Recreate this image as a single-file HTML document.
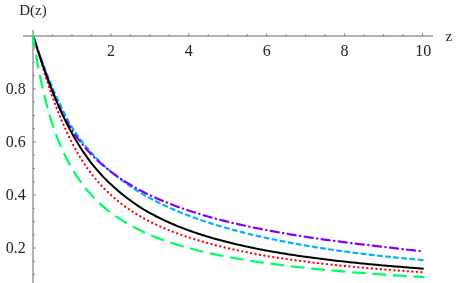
<!DOCTYPE html>
<html><head><meta charset="utf-8"><title>D(z)</title>
<style>
html,body{margin:0;padding:0;background:#fff;}
body{width:458px;height:283px;position:relative;overflow:hidden;font-family:"Liberation Serif",serif;}
</style></head><body>
<svg width="458" height="283" viewBox="0 0 458 283" style="position:absolute;left:0;top:0">
<rect width="458" height="283" fill="#fff"/>
<g stroke="#666" stroke-width="1" fill="none">
<path d="M23,36 H433"/>
<path d="M33,30 V283"/>
</g>
<path d="M52.48,36 v-1.8 M71.95,36 v-1.8 M91.43,36 v-1.8 M110.90,36 v-2.8 M130.38,36 v-1.8 M149.85,36 v-1.8 M169.33,36 v-1.8 M188.80,36 v-2.8 M208.28,36 v-1.8 M227.75,36 v-1.8 M247.23,36 v-1.8 M266.70,36 v-2.8 M286.18,36 v-1.8 M305.65,36 v-1.8 M325.12,36 v-1.8 M344.60,36 v-2.8 M364.08,36 v-1.8 M383.55,36 v-1.8 M403.03,36 v-1.8 M422.50,36 v-2.8 M33,274.57 h1.8 M33,261.31 h1.8 M33,248.04 h2.8 M33,234.78 h1.8 M33,221.51 h1.8 M33,208.25 h1.8 M33,194.98 h2.8 M33,181.72 h1.8 M33,168.45 h1.8 M33,155.19 h1.8 M33,141.92 h2.8 M33,128.66 h1.8 M33,115.39 h1.8 M33,102.12 h1.8 M33,88.86 h2.8 M33,75.59 h1.8 M33,62.33 h1.8 M33,49.06 h1.8" stroke="#333" stroke-width="0.55" fill="none"/>
<defs><clipPath id="cp"><rect x="30" y="35" width="396" height="250"/></clipPath></defs><g clip-path="url(#cp)">
<path d="M33.00,35.80 L33.99,38.52 L34.99,41.29 L35.98,44.11 L36.98,46.94 L37.98,49.79 L38.99,52.64 L39.99,55.48 L41.00,58.30 L42.01,61.10 L43.02,63.86 L44.03,66.60 L45.06,69.29 L46.08,71.94 L47.10,74.56 L48.11,77.12 L49.14,79.65 L50.16,82.12 L51.18,84.55 L52.19,86.94 L53.18,89.27 L54.15,91.57 L55.12,93.81 L56.10,96.01 L57.07,98.16 L58.04,100.27 L59.01,102.34 L59.97,104.37 L60.92,106.35 L61.86,108.29 L62.80,110.19 L63.73,112.06 L64.66,113.88 L65.58,115.67 L66.48,117.42 L67.37,119.14 L68.26,120.82 L69.17,122.47 L70.10,124.09 L71.05,125.67 L72.00,127.22 L73.91,130.24 L75.84,133.14 L77.78,135.93 L79.72,138.62 L81.67,141.22 L83.61,143.72 L85.55,146.14 L87.50,148.48 L89.44,150.75 L91.38,152.94 L93.33,155.06 L95.27,157.11 L97.21,159.11 L99.15,161.04 L101.10,162.92 L103.04,164.75 L104.98,166.52 L106.93,168.24 L108.87,169.92 L110.81,171.56 L112.76,173.16 L114.70,174.72 L116.64,176.26 L118.59,177.77 L120.53,179.25 L122.47,180.70 L124.42,182.12 L126.36,183.52 L128.30,184.89 L130.25,186.23 L132.19,187.54 L134.13,188.82 L136.08,190.08 L138.02,191.31 L139.96,192.51 L141.91,193.68 L143.85,194.82 L145.79,195.93 L147.73,197.01 L149.68,198.07 L151.62,199.09 L153.56,200.10 L155.51,201.09 L157.45,202.06 L159.39,203.02 L161.34,203.95 L163.28,204.87 L165.22,205.78 L167.17,206.67 L169.11,207.54 L171.05,208.40 L173.00,209.25 L174.94,210.08 L176.88,210.90 L178.83,211.71 L180.77,212.50 L182.71,213.28 L184.66,214.05 L186.60,214.80 L188.54,215.55 L190.48,216.28 L192.43,217.00 L194.37,217.72 L196.31,218.42 L198.26,219.11 L200.20,219.79 L202.14,220.46 L204.09,221.12 L206.03,221.77 L207.97,222.41 L209.92,223.04 L211.86,223.66 L213.80,224.27 L215.75,224.87 L217.69,225.46 L219.63,226.05 L221.58,226.62 L223.52,227.19 L225.46,227.75 L227.41,228.30 L229.35,228.84 L231.29,229.37 L233.24,229.90 L235.18,230.42 L237.12,230.93 L239.06,231.44 L241.01,231.94 L242.95,232.43 L244.89,232.92 L246.84,233.40 L248.78,233.87 L250.72,234.34 L252.67,234.80 L254.61,235.25 L256.55,235.70 L258.50,236.15 L260.44,236.59 L262.38,237.02 L264.33,237.45 L266.27,237.87 L268.21,238.29 L270.16,238.71 L272.10,239.12 L274.04,239.52 L275.99,239.92 L277.93,240.32 L279.87,240.71 L281.82,241.10 L283.76,241.49 L285.70,241.86 L287.64,242.24 L289.59,242.61 L291.53,242.98 L293.47,243.34 L295.42,243.69 L297.36,244.05 L299.30,244.40 L301.25,244.74 L303.19,245.09 L305.13,245.42 L307.08,245.76 L309.02,246.09 L310.96,246.41 L312.91,246.74 L314.85,247.06 L316.79,247.37 L318.74,247.68 L320.68,247.99 L322.62,248.30 L324.57,248.60 L326.51,248.90 L328.45,249.19 L330.40,249.48 L332.34,249.77 L334.28,250.05 L336.22,250.34 L338.17,250.61 L340.11,250.89 L342.05,251.16 L344.00,251.43 L345.94,251.69 L347.88,251.96 L349.83,252.22 L351.77,252.47 L353.71,252.73 L355.66,252.98 L357.60,253.23 L359.54,253.47 L361.49,253.71 L363.43,253.95 L365.37,254.19 L367.32,254.42 L369.26,254.65 L371.20,254.88 L373.15,255.11 L375.09,255.33 L377.03,255.55 L378.97,255.76 L380.92,255.98 L382.86,256.19 L384.80,256.39 L386.75,256.60 L388.69,256.80 L390.63,257.01 L392.58,257.21 L394.52,257.40 L396.46,257.60 L398.41,257.79 L400.35,257.98 L402.29,258.17 L404.24,258.36 L406.18,258.55 L408.12,258.74 L410.07,258.92 L412.01,259.10 L413.95,259.28 L415.90,259.46 L417.84,259.64 L419.78,259.82 L421.73,260.00 L423.67,260.17" fill="none" stroke="#00b2ff" stroke-width="2.2" stroke-linejoin="round" stroke-linecap="round" stroke-dasharray="4.0 4.196" stroke-dashoffset="8.35"/>
<path d="M33.00,35.80 L33.97,38.46 L34.95,41.21 L35.92,44.04 L36.90,46.92 L37.87,49.83 L38.84,52.76 L39.82,55.69 L40.79,58.62 L41.76,61.53 L42.74,64.41 L43.71,67.26 L44.69,70.07 L45.66,72.84 L46.63,75.57 L47.61,78.25 L48.58,80.88 L49.55,83.46 L50.53,85.99 L51.50,88.47 L52.48,90.89 L53.44,93.27 L54.40,95.59 L55.34,97.86 L56.28,100.08 L57.21,102.25 L58.14,104.37 L59.08,106.44 L60.02,108.47 L60.96,110.45 L61.91,112.38 L62.87,114.27 L63.83,116.12 L64.79,117.93 L65.75,119.69 L66.71,121.42 L67.68,123.10 L68.64,124.75 L69.61,126.36 L70.58,127.94 L71.55,129.48 L73.50,132.46 L75.47,135.31 L77.45,138.04 L79.44,140.66 L81.43,143.18 L83.41,145.59 L85.39,147.92 L87.38,150.15 L89.36,152.30 L91.34,154.38 L93.31,156.38 L95.27,158.31 L97.21,160.17 L99.15,161.97 L101.10,163.71 L103.04,165.40 L104.98,167.03 L106.93,168.62 L108.87,170.15 L110.81,171.64 L112.76,173.09 L114.70,174.51 L116.64,175.89 L118.59,177.23 L120.53,178.55 L122.47,179.84 L124.42,181.09 L126.36,182.32 L128.30,183.52 L130.25,184.70 L132.19,185.84 L134.13,186.97 L136.08,188.06 L138.02,189.14 L139.96,190.18 L141.91,191.21 L143.85,192.21 L145.79,193.19 L147.73,194.14 L149.68,195.08 L151.62,195.99 L153.56,196.88 L155.51,197.76 L157.45,198.62 L159.39,199.47 L161.34,200.30 L163.28,201.11 L165.22,201.91 L167.17,202.70 L169.11,203.47 L171.05,204.23 L173.00,204.98 L174.94,205.72 L176.88,206.44 L178.83,207.15 L180.77,207.85 L182.71,208.54 L184.66,209.21 L186.60,209.88 L188.54,210.53 L190.48,211.17 L192.43,211.81 L194.37,212.43 L196.31,213.04 L198.26,213.65 L200.20,214.24 L202.14,214.83 L204.09,215.40 L206.03,215.97 L207.97,216.53 L209.92,217.08 L211.86,217.62 L213.80,218.15 L215.75,218.67 L217.69,219.19 L219.63,219.70 L221.58,220.20 L223.52,220.69 L225.46,221.18 L227.41,221.66 L229.35,222.13 L231.29,222.60 L233.24,223.06 L235.18,223.52 L237.12,223.97 L239.06,224.41 L241.01,224.85 L242.95,225.28 L244.89,225.70 L246.84,226.12 L248.78,226.54 L250.72,226.95 L252.67,227.35 L254.61,227.75 L256.55,228.15 L258.50,228.54 L260.44,228.93 L262.38,229.31 L264.33,229.69 L266.27,230.06 L268.21,230.43 L270.16,230.80 L272.10,231.16 L274.04,231.52 L275.99,231.87 L277.93,232.22 L279.87,232.57 L281.82,232.91 L283.76,233.25 L285.70,233.59 L287.64,233.92 L289.59,234.25 L291.53,234.57 L293.47,234.89 L295.42,235.21 L297.36,235.52 L299.30,235.83 L301.25,236.13 L303.19,236.44 L305.13,236.73 L307.08,237.03 L309.02,237.32 L310.96,237.61 L312.91,237.90 L314.85,238.18 L316.79,238.46 L318.74,238.74 L320.68,239.02 L322.62,239.29 L324.57,239.56 L326.51,239.83 L328.45,240.10 L330.40,240.36 L332.34,240.62 L334.28,240.88 L336.22,241.14 L338.17,241.39 L340.11,241.65 L342.05,241.90 L344.00,242.15 L345.94,242.40 L347.88,242.64 L349.83,242.89 L351.77,243.13 L353.71,243.37 L355.66,243.61 L357.60,243.85 L359.54,244.09 L361.49,244.32 L363.43,244.56 L365.37,244.79 L367.32,245.02 L369.26,245.25 L371.20,245.47 L373.15,245.70 L375.09,245.92 L377.03,246.14 L378.97,246.36 L380.92,246.58 L382.86,246.80 L384.80,247.01 L386.75,247.23 L388.69,247.45 L390.63,247.68 L392.58,247.91 L394.52,248.15 L396.46,248.38 L398.41,248.62 L400.35,248.85 L402.29,249.08 L404.24,249.32 L406.18,249.55 L408.12,249.77 L410.07,249.99 L412.01,250.21 L413.95,250.42 L415.90,250.62 L417.84,250.82 L419.78,251.01 L421.73,251.19" fill="none" stroke="#8000ff" stroke-width="2.2" stroke-linejoin="round" stroke-linecap="round" stroke-dasharray="8.2 4.3 0.4 4.31" stroke-dashoffset="12.75"/>
<path d="M33.00,35.80 L33.95,38.43 L34.90,41.20 L35.85,44.08 L36.80,47.06 L37.75,50.10 L38.70,53.20 L39.64,56.33 L40.59,59.48 L41.53,62.64 L42.46,65.80 L43.39,68.95 L44.32,72.08 L45.27,75.19 L46.23,78.27 L47.21,81.32 L48.18,84.33 L49.15,87.30 L50.13,90.23 L51.10,93.11 L52.08,95.95 L53.06,98.74 L54.05,101.48 L55.06,104.17 L56.07,106.81 L57.09,109.41 L58.12,111.95 L59.14,114.45 L60.16,116.89 L61.18,119.29 L62.18,121.64 L63.18,123.94 L64.16,126.20 L65.13,128.41 L66.11,130.57 L67.08,132.69 L68.06,134.77 L69.03,136.80 L70.00,138.79 L70.98,140.74 L71.95,142.65 L73.89,146.35 L75.84,149.90 L77.78,153.30 L79.72,156.57 L81.67,159.71 L83.61,162.73 L85.55,165.62 L87.50,168.41 L89.44,171.09 L91.38,173.68 L93.33,176.16 L95.27,178.55 L97.21,180.86 L99.15,183.09 L101.10,185.23 L103.04,187.30 L104.98,189.30 L106.93,191.24 L108.87,193.10 L110.81,194.91 L112.76,196.66 L114.70,198.35 L116.64,199.99 L118.59,201.57 L120.53,203.11 L122.47,204.60 L124.42,206.04 L126.36,207.44 L128.30,208.81 L130.25,210.13 L132.19,211.41 L134.13,212.66 L136.08,213.87 L138.02,215.05 L139.96,216.20 L141.91,217.32 L143.85,218.40 L145.79,219.46 L147.73,220.49 L149.68,221.50 L151.62,222.48 L153.56,223.43 L155.51,224.37 L157.45,225.28 L159.39,226.16 L161.34,227.03 L163.28,227.88 L165.22,228.70 L167.17,229.51 L169.11,230.30 L171.05,231.07 L173.00,231.83 L174.94,232.57 L176.88,233.29 L178.83,234.00 L180.77,234.69 L182.71,235.37 L184.66,236.03 L186.60,236.68 L188.54,237.32 L190.48,237.94 L192.43,238.56 L194.37,239.16 L196.31,239.76 L198.26,240.35 L200.20,240.93 L202.14,241.50 L204.09,242.06 L206.03,242.61 L207.97,243.16 L209.92,243.69 L211.86,244.22 L213.80,244.73 L215.75,245.24 L217.69,245.74 L219.63,246.23 L221.58,246.71 L223.52,247.19 L225.46,247.65 L227.41,248.10 L229.35,248.55 L231.29,248.99 L233.24,249.42 L235.18,249.85 L237.12,250.27 L239.06,250.69 L241.01,251.09 L242.95,251.50 L244.89,251.89 L246.84,252.28 L248.78,252.67 L250.72,253.05 L252.67,253.42 L254.61,253.79 L256.55,254.15 L258.50,254.50 L260.44,254.85 L262.38,255.20 L264.33,255.54 L266.27,255.87 L268.21,256.19 L270.16,256.52 L272.10,256.83 L274.04,257.14 L275.99,257.45 L277.93,257.75 L279.87,258.04 L281.82,258.33 L283.76,258.61 L285.70,258.90 L287.64,259.18 L289.59,259.45 L291.53,259.72 L293.47,259.99 L295.42,260.25 L297.36,260.51 L299.30,260.77 L301.25,261.03 L303.19,261.28 L305.13,261.53 L307.08,261.77 L309.02,262.01 L310.96,262.25 L312.91,262.49 L314.85,262.72 L316.79,262.96 L318.74,263.18 L320.68,263.41 L322.62,263.63 L324.57,263.85 L326.51,264.07 L328.45,264.29 L330.40,264.50 L332.34,264.71 L334.28,264.92 L336.22,265.12 L338.17,265.33 L340.11,265.53 L342.05,265.73 L344.00,265.92 L345.94,266.12 L347.88,266.31 L349.83,266.50 L351.77,266.69 L353.71,266.87 L355.66,267.05 L357.60,267.23 L359.54,267.41 L361.49,267.59 L363.43,267.76 L365.37,267.94 L367.32,268.11 L369.26,268.27 L371.20,268.44 L373.15,268.61 L375.09,268.77 L377.03,268.93 L378.97,269.09 L380.92,269.25 L382.86,269.40 L384.80,269.56 L386.75,269.71 L388.69,269.86 L390.63,270.01 L392.58,270.16 L394.52,270.31 L396.46,270.45 L398.41,270.60 L400.35,270.74 L402.29,270.88 L404.24,271.02 L406.18,271.16 L408.12,271.30 L410.07,271.44 L412.01,271.58 L413.95,271.71 L415.90,271.85 L417.84,271.98 L419.78,272.11 L421.73,272.25 L423.67,272.38" fill="none" stroke="#ff0000" stroke-width="2.3" stroke-linejoin="round" stroke-linecap="round" stroke-dasharray="0.01 4.502" stroke-dashoffset="0.71"/>
<path d="M33.00,35.80 L33.97,38.83 L34.95,41.85 L35.92,44.84 L36.90,47.82 L37.87,50.77 L38.84,53.70 L39.82,56.60 L40.79,59.47 L41.76,62.32 L42.74,65.13 L43.71,67.91 L44.69,70.66 L45.66,73.37 L46.63,76.05 L47.61,78.69 L48.58,81.29 L49.55,83.86 L50.53,86.39 L51.50,88.89 L52.48,91.35 L53.45,93.77 L54.42,96.16 L55.40,98.52 L56.37,100.84 L57.34,103.13 L58.32,105.39 L59.29,107.60 L60.27,109.78 L61.24,111.92 L62.21,114.03 L63.19,116.10 L64.16,118.13 L65.13,120.13 L66.11,122.10 L67.08,124.03 L68.06,125.93 L69.03,127.80 L70.00,129.64 L70.98,131.44 L71.95,133.21 L73.89,136.67 L75.84,140.01 L77.78,143.25 L79.72,146.38 L81.67,149.42 L83.61,152.35 L85.55,155.18 L87.50,157.92 L89.44,160.56 L91.38,163.10 L93.33,165.55 L95.27,167.92 L97.21,170.20 L99.15,172.40 L101.10,174.53 L103.04,176.60 L104.98,178.60 L106.93,180.55 L108.87,182.44 L110.81,184.29 L112.76,186.10 L114.70,187.85 L116.64,189.57 L118.59,191.24 L120.53,192.86 L122.47,194.45 L124.42,196.00 L126.36,197.51 L128.30,198.98 L130.25,200.42 L132.19,201.81 L134.13,203.18 L136.08,204.50 L138.02,205.80 L139.96,207.06 L141.91,208.29 L143.85,209.48 L145.79,210.64 L147.73,211.77 L149.68,212.87 L151.62,213.94 L153.56,214.98 L155.51,216.00 L157.45,217.00 L159.39,217.97 L161.34,218.92 L163.28,219.85 L165.22,220.77 L167.17,221.66 L169.11,222.53 L171.05,223.38 L173.00,224.22 L174.94,225.04 L176.88,225.84 L178.83,226.62 L180.77,227.39 L182.71,228.15 L184.66,228.89 L186.60,229.61 L188.54,230.32 L190.48,231.02 L192.43,231.70 L194.37,232.37 L196.31,233.03 L198.26,233.68 L200.20,234.31 L202.14,234.93 L204.09,235.54 L206.03,236.14 L207.97,236.73 L209.92,237.31 L211.86,237.88 L213.80,238.44 L215.75,238.99 L217.69,239.52 L219.63,240.06 L221.58,240.58 L223.52,241.09 L225.46,241.59 L227.41,242.09 L229.35,242.58 L231.29,243.05 L233.24,243.53 L235.18,243.99 L237.12,244.45 L239.06,244.90 L241.01,245.34 L242.95,245.77 L244.89,246.20 L246.84,246.63 L248.78,247.04 L250.72,247.45 L252.67,247.85 L254.61,248.25 L256.55,248.64 L258.50,249.03 L260.44,249.41 L262.38,249.78 L264.33,250.15 L266.27,250.51 L268.21,250.87 L270.16,251.22 L272.10,251.57 L274.04,251.91 L275.99,252.25 L277.93,252.58 L279.87,252.91 L281.82,253.23 L283.76,253.55 L285.70,253.86 L287.64,254.17 L289.59,254.47 L291.53,254.77 L293.47,255.07 L295.42,255.36 L297.36,255.65 L299.30,255.93 L301.25,256.21 L303.19,256.49 L305.13,256.76 L307.08,257.03 L309.02,257.30 L310.96,257.56 L312.91,257.82 L314.85,258.07 L316.79,258.32 L318.74,258.57 L320.68,258.82 L322.62,259.06 L324.57,259.30 L326.51,259.54 L328.45,259.78 L330.40,260.01 L332.34,260.24 L334.28,260.46 L336.22,260.69 L338.17,260.91 L340.11,261.13 L342.05,261.35 L344.00,261.56 L345.94,261.77 L347.88,261.98 L349.83,262.19 L351.77,262.40 L353.71,262.60 L355.66,262.80 L357.60,263.00 L359.54,263.19 L361.49,263.39 L363.43,263.58 L365.37,263.77 L367.32,263.96 L369.26,264.14 L371.20,264.32 L373.15,264.50 L375.09,264.68 L377.03,264.86 L378.97,265.04 L380.92,265.21 L382.86,265.38 L384.80,265.55 L386.75,265.72 L388.69,265.89 L390.63,266.06 L392.58,266.22 L394.52,266.38 L396.46,266.54 L398.41,266.70 L400.35,266.86 L402.29,267.02 L404.24,267.18 L406.18,267.33 L408.12,267.49 L410.07,267.64 L412.01,267.79 L413.95,267.94 L415.90,268.09 L417.84,268.24 L419.78,268.39 L421.73,268.54 L423.67,268.68" fill="none" stroke="#000" stroke-width="2" stroke-linejoin="round" stroke-linecap="butt"/>
<path d="M33.00,35.80 L33.97,42.27 L34.95,48.43 L35.92,54.31 L36.90,59.92 L37.87,65.28 L38.84,70.40 L39.82,75.31 L40.79,80.02 L41.76,84.53 L42.74,88.86 L43.71,93.02 L44.69,97.02 L45.66,100.87 L46.63,104.58 L47.61,108.15 L48.58,111.60 L49.55,114.92 L50.53,118.13 L51.50,121.24 L52.48,124.23 L53.45,127.13 L54.42,129.94 L55.40,132.66 L56.37,135.29 L57.34,137.84 L58.32,140.31 L59.29,142.71 L60.27,145.04 L61.24,147.30 L62.21,149.50 L63.19,151.64 L64.16,153.71 L65.13,155.73 L66.11,157.69 L67.08,159.61 L68.06,161.47 L69.03,163.28 L70.00,165.05 L70.98,166.77 L71.95,168.45 L73.89,171.68 L75.84,174.75 L77.78,177.69 L79.72,180.48 L81.67,183.16 L83.61,185.72 L85.55,188.17 L87.50,190.52 L89.44,192.77 L91.38,194.93 L93.33,197.01 L95.27,199.01 L97.21,200.93 L99.15,202.78 L101.10,204.57 L103.04,206.29 L104.98,207.95 L106.93,209.55 L108.87,211.10 L110.81,212.60 L112.76,214.05 L114.70,215.45 L116.64,216.81 L118.59,218.12 L120.53,219.40 L122.47,220.64 L124.42,221.84 L126.36,223.00 L128.30,224.13 L130.25,225.23 L132.19,226.30 L134.13,227.33 L136.08,228.34 L138.02,229.32 L139.96,230.28 L141.91,231.21 L143.85,232.12 L145.79,233.00 L147.73,233.86 L149.68,234.70 L151.62,235.52 L153.56,236.32 L155.51,237.10 L157.45,237.86 L159.39,238.60 L161.34,239.33 L163.28,240.04 L165.22,240.73 L167.17,241.41 L169.11,242.07 L171.05,242.72 L173.00,243.35 L174.94,243.97 L176.88,244.58 L178.83,245.18 L180.77,245.76 L182.71,246.33 L184.66,246.89 L186.60,247.43 L188.54,247.97 L190.48,248.50 L192.43,249.01 L194.37,249.52 L196.31,250.01 L198.26,250.50 L200.20,250.97 L202.14,251.44 L204.09,251.90 L206.03,252.35 L207.97,252.80 L209.92,253.23 L211.86,253.66 L213.80,254.08 L215.75,254.49 L217.69,254.89 L219.63,255.29 L221.58,255.68 L223.52,256.07 L225.46,256.45 L227.41,256.82 L229.35,257.18 L231.29,257.54 L233.24,257.90 L235.18,258.25 L237.12,258.59 L239.06,258.93 L241.01,259.26 L242.95,259.58 L244.89,259.91 L246.84,260.22 L248.78,260.53 L250.72,260.84 L252.67,261.14 L254.61,261.44 L256.55,261.74 L258.50,262.02 L260.44,262.31 L262.38,262.59 L264.33,262.87 L266.27,263.14 L268.21,263.41 L270.16,263.67 L272.10,263.94 L274.04,264.19 L275.99,264.45 L277.93,264.70 L279.87,264.95 L281.82,265.19 L283.76,265.43 L285.70,265.67 L287.64,265.90 L289.59,266.14 L291.53,266.36 L293.47,266.59 L295.42,266.81 L297.36,267.03 L299.30,267.25 L301.25,267.46 L303.19,267.67 L305.13,267.88 L307.08,268.09 L309.02,268.29 L310.96,268.49 L312.91,268.69 L314.85,268.89 L316.79,269.08 L318.74,269.27 L320.68,269.46 L322.62,269.65 L324.57,269.84 L326.51,270.02 L328.45,270.20 L330.40,270.38 L332.34,270.55 L334.28,270.73 L336.22,270.90 L338.17,271.07 L340.11,271.24 L342.05,271.41 L344.00,271.57 L345.94,271.73 L347.88,271.90 L349.83,272.06 L351.77,272.21 L353.71,272.37 L355.66,272.52 L357.60,272.68 L359.54,272.83 L361.49,272.98 L363.43,273.12 L365.37,273.27 L367.32,273.42 L369.26,273.56 L371.20,273.70 L373.15,273.84 L375.09,273.98 L377.03,274.12 L378.97,274.25 L380.92,274.39 L382.86,274.52 L384.80,274.66 L386.75,274.79 L388.69,274.92 L390.63,275.04 L392.58,275.17 L394.52,275.30 L396.46,275.42 L398.41,275.54 L400.35,275.67 L402.29,275.79 L404.24,275.91 L406.18,276.03 L408.12,276.14 L410.07,276.26 L412.01,276.38 L413.95,276.49 L415.90,276.60 L417.84,276.72 L419.78,276.83 L421.73,276.94 L423.67,277.05" fill="none" stroke="#00ff66" stroke-width="2.25" stroke-linejoin="round" stroke-linecap="round" stroke-dasharray="11.95 8.55" stroke-dashoffset="20.880000000000003"/>
</g></svg>
<svg width="458" height="283" viewBox="0 0 458 283" style="position:absolute;left:0;top:0;opacity:0.999;will-change:opacity" font-family="'Liberation Serif', serif" font-size="15" fill="#000" fill-opacity="0.88">
<text x="110.90" y="55.6" text-anchor="middle" font-size="16">2</text>
<text x="188.80" y="55.6" text-anchor="middle" font-size="16">4</text>
<text x="266.70" y="55.6" text-anchor="middle" font-size="16">6</text>
<text x="344.60" y="55.6" text-anchor="middle" font-size="16">8</text>
<text x="423.25" y="55.6" text-anchor="middle" font-size="16">10</text>
<text x="25.75" y="252.94" text-anchor="end" font-size="16">0.2</text>
<text x="25.75" y="199.88" text-anchor="end" font-size="16">0.4</text>
<text x="25.75" y="146.82" text-anchor="end" font-size="16">0.6</text>
<text x="25.75" y="93.76" text-anchor="end" font-size="16">0.8</text>
<text x="19.2" y="14.6">D(z)</text>
<text x="445.4" y="41.2">z</text>
</svg>
</body></html>
